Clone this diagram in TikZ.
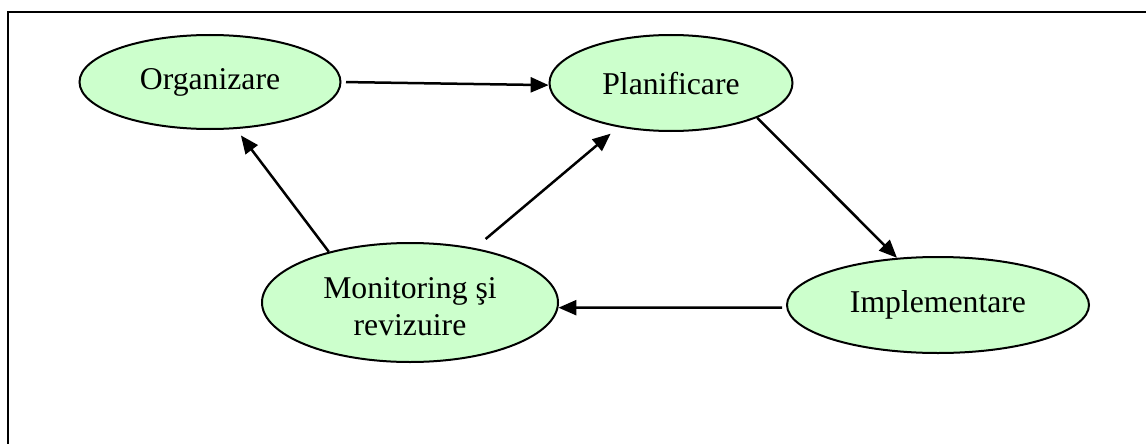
\documentclass[tikz,border=0pt]{standalone}
\usepackage{fontspec}
\setmainfont{Liberation Serif}
\usetikzlibrary{shapes.geometric,arrows.meta}
\definecolor{nodegreen}{HTML}{CCFFCC}
\tikzset{
  stage/.style={ellipse, draw=black, line width=2pt, fill=nodegreen, inner sep=0pt,
    align=center, font=\fontsize{31.7}{37}\selectfont},
  stagetext/.style={align=center, font=\fontsize{31.7}{37}\selectfont},
  arr/.style={line width=2.5pt, -{Triangle[length=18pt,width=15pt]}},
}
\begin{document}
\begin{tikzpicture}[x=1pt,y=-1pt]
\useasboundingbox (0,0) rectangle (1146,444);
\draw[line width=2pt] (8,460) -- (8,12) -- (1160,12);
\node[stage, minimum width=261pt, minimum height=94pt] (org) at (210,82) {Organizare};
\node[stage, minimum width=243pt, minimum height=96pt] (plan) at (671,83) {Planificare};
\node[stage, minimum width=296pt, minimum height=119pt,
  label={[stagetext, yshift=-4pt]center:{Monitoring ş{}i\\revizuire}}] (mon) at (410,302.5) {};
\node[stage, minimum width=302pt, minimum height=96pt] (impl) at (938,305) {Implementare};
\draw[arr, shorten <=4.5pt] (org.-0.9) -- (plan.181.9);
\draw[arr] (plan.-22) -- (impl.131.7);
\draw[arr, shorten <=4pt] (impl.181.8) -- (mon.-2.3);
\draw[arr, shorten >=8pt] (mon.148.5) -- (org.-61);
\draw[arr, shorten <=14pt, shorten >=10pt] (mon.40.3) -- (plan.-140.7);
\end{tikzpicture}
\end{document}
